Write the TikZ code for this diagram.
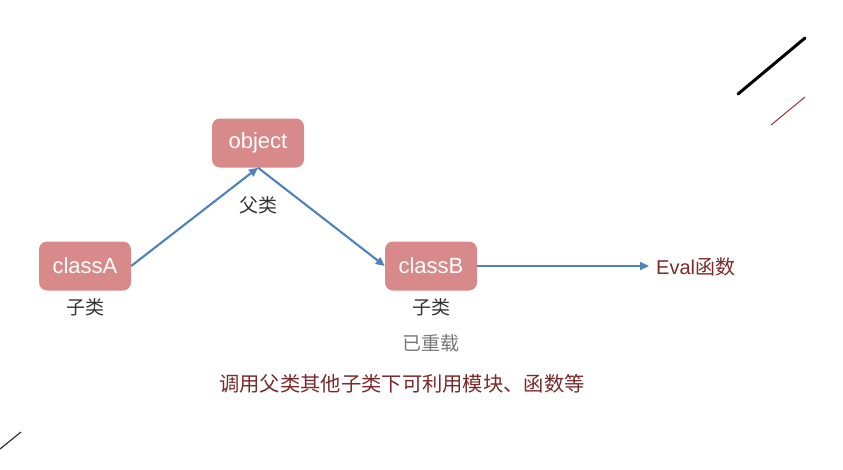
\documentclass[tikz,border=0pt]{standalone}
\usepackage{fontspec}
\setmainfont{Liberation Sans}
\newfontfamily\cjk{Noto Sans CJK SC}
\usetikzlibrary{arrows.meta}
\definecolor{boxfill}{RGB}{216,137,137}
\definecolor{arrowblue}{RGB}{79,129,189}
\definecolor{darkred}{RGB}{122,42,42}
\definecolor{labelgrey}{RGB}{51,51,51}
\definecolor{lightgrey}{RGB}{120,120,120}
\definecolor{decored}{RGB}{160,48,48}
\tikzset{
  classbox/.style={fill=boxfill, rounded corners=8pt, minimum width=92pt, minimum height=49pt,
    text=white, font=\fontsize{22}{24}\selectfont, inner sep=0pt},
  cnlabel/.style={text=labelgrey, font=\cjk\fontsize{19}{22}\selectfont, inner sep=0pt},
  link/.style={draw=arrowblue, line width=2.1pt, -{Triangle[length=9pt,width=8pt]}},
}
\begin{document}
\begin{tikzpicture}[x=1pt,y=-1pt]
\useasboundingbox (0,0) rectangle (843,469);
\fill[white] (0,0) rectangle (843,469);
% decorations
\draw[black, line width=3pt, line cap=round] (738,94) -- (805,38);
\draw[decored, line width=1pt] (771,125) -- (805,97);
\draw[labelgrey, line width=1.2pt] (0,449) -- (21,432);
% boxes
\node[classbox] (object) at (258,143) {object};
\node[classbox] (classA) at (85,266) {classA};
\node[classbox] (classB) at (431,266) {classB};
% labels
\node[cnlabel] (fu) at (258,205) {父类};
\node[cnlabel] (ziA) at (85,307) {子类};
\node[cnlabel] (ziB) at (431,307) {子类};
\node[cnlabel, text=lightgrey] (chong) at (431,343) {已重载};
\node[cnlabel, text=darkred, font=\cjk\fontsize{20.3}{24}\selectfont] (desc) at (402,384) {调用父类其他子类下可利用模块、函数等};
\node[anchor=west, text=darkred, font=\fontsize{20}{24}\selectfont, inner sep=0pt] (eval) at (656,267) {Eval{\cjk 函数}};
\coordinate (evalend) at (649,266);
% connectors
\draw[link] (classA.east) -- (object.south);
\draw[link] (object.south) -- (classB.west);
\draw[link] (classB.east) -- (evalend);
\end{tikzpicture}
\end{document}
